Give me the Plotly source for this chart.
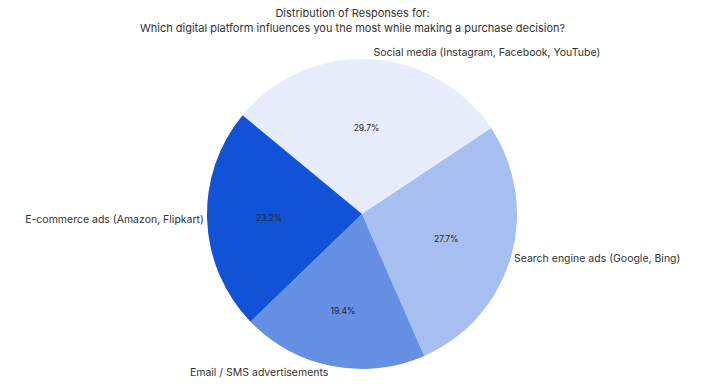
import plotly.graph_objects as go

categories = [
    "Social media (Instagram, Facebook, YouTube)",
    "Search engine ads (Google, Bing)",
    "Email / SMS advertisements",
    "E-commerce ads (Amazon, Flipkart)",
]
counts = [46, 43, 30, 36]
colors = ["#E6ECFA", "#A6BFF0", "#6690E4", "#1252D6"]

title_lines = [
    "Distribution of Responses for:",
    "Which digital platform influences you the most while making a purchase decision?",
]

fig = go.Figure()
fig.add_trace(go.Pie(
    labels=categories, values=counts, sort=False, direction="clockwise",
    rotation=-50.4,
    marker=dict(colors=colors, line=dict(width=0)),
    textinfo="percent", texttemplate="%{percent:.1%}",
    textposition="inside", insidetextorientation="horizontal",
    textfont=dict(size=8.5, color="#222222", family="Inter"),
    showlegend=False, hoverinfo="label+percent",
))
fig.add_trace(go.Pie(
    labels=categories, values=counts, sort=False, direction="clockwise",
    rotation=-50.4,
    marker=dict(colors=["rgba(0,0,0,0)"] * 4, line=dict(width=0)),
    textinfo="label", textposition="outside",
    textfont=dict(size=10.5, color="#333333", family="Inter"),
    outsidetextfont=dict(size=10.5, color="#333333", family="Inter"),
    showlegend=False, hoverinfo="skip",
))
fig.update_layout(
    width=705, height=387,
    margin=dict(l=15, r=0, t=56, b=0),
    paper_bgcolor="white", plot_bgcolor="white",
    font=dict(family="Inter", color="#333333"),
    title=dict(text="<br>".join(title_lines), x=0.5, xanchor="center", y=0.955, yanchor="top",
               font=dict(size=11, color="#333333", family="Inter")),
)
fig.write_html("out.html")
